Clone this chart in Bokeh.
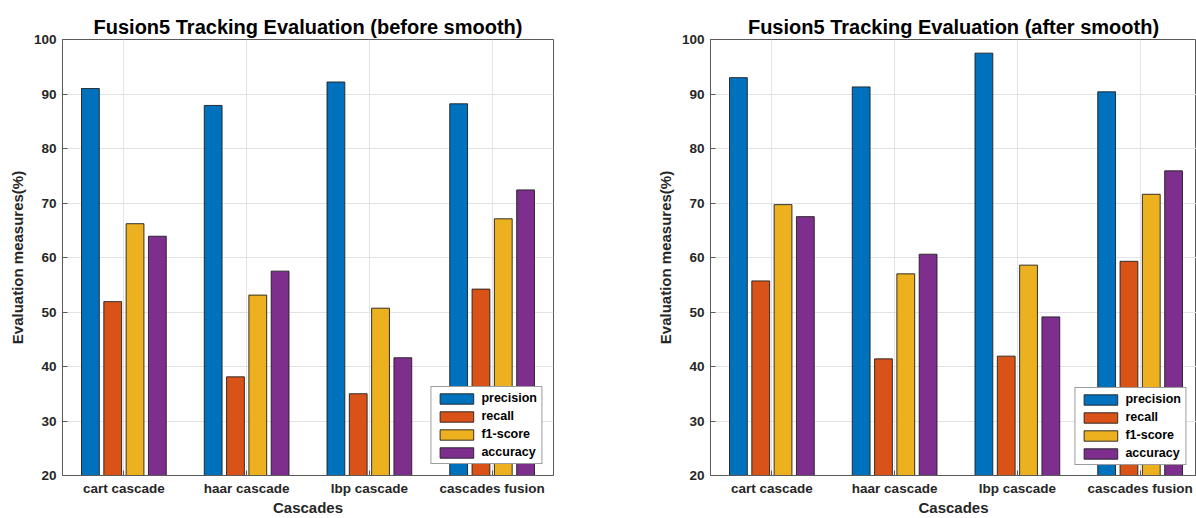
from bokeh.plotting import figure
from bokeh.layouts import row
from bokeh.models import ColumnDataSource, FixedTicker, Range1d, Legend, LegendItem
from bokeh.transform import dodge
from bokeh.embed import file_html
from bokeh.resources import INLINE

# ---------------- data ----------------
cascades = ["cart cascade", "haar cascade", "lbp cascade", "cascades fusion"]
positions = [1, 2, 3, 4]
measures = ["precision", "recall", "f1-score", "accuracy"]

before_precision = [91.0, 87.9, 92.2, 88.2]
before_recall = [51.9, 38.1, 35.0, 54.2]
before_f1 = [66.2, 53.1, 50.7, 67.1]
before_accuracy = [63.9, 57.5, 41.6, 72.4]

after_precision = [93.0, 91.3, 97.5, 90.4]
after_recall = [55.7, 41.4, 41.9, 59.3]
after_f1 = [69.7, 57.0, 58.6, 71.6]
after_accuracy = [67.5, 60.6, 49.1, 75.9]

y_ticks = [20, 30, 40, 50, 60, 70, 80, 90, 100]

colors = ["#0072BD", "#D95319", "#EDB120", "#7E2F8E"]
offsets = [-0.2727, -0.0909, 0.0909, 0.2727]
BAR_W = 0.145
FONT = "Liberation Sans"
TXT = "#262626"
FRAME = "#5a5a5a"
FIG_H = 518


def make_fig(title, series, width, x_end, border_right, legend_margin):
    src = ColumnDataSource(dict(pos=positions, m0=series[0], m1=series[1],
                                m2=series[2], m3=series[3]))
    p = figure(width=width, height=FIG_H, output_backend="svg", toolbar_location=None,
               x_range=Range1d(0.5, x_end), y_range=Range1d(20, 100),
               min_border_left=62, min_border_right=border_right,
               min_border_top=39, min_border_bottom=42,
               background_fill_color="white", border_fill_color="white")
    p.title.text = title
    p.title.text_font = FONT
    p.title.text_font_size = "20px"
    p.title.text_font_style = "bold"
    p.title.text_color = "black"
    p.title.align = "center"
    p.title.standoff = 3

    p.outline_line_color = FRAME
    p.outline_line_width = 1

    p.xgrid.grid_line_color = "#e3e3e3"
    p.ygrid.grid_line_color = "#e3e3e3"

    renderers = []
    for i in range(4):
        r = p.vbar(x=dodge("pos", offsets[i]), top="m%d" % i, bottom=20, width=BAR_W,
                   source=src, fill_color=colors[i], line_color="#1e1e1e",
                   line_width=0.9)
        renderers.append(r)

    xa = p.xaxis[0]
    xa.ticker = FixedTicker(ticks=positions)
    xa.major_label_overrides = {k: v for k, v in zip(positions, cascades)}
    xa.axis_label = "Cascades"
    ya = p.yaxis[0]
    ya.ticker = FixedTicker(ticks=y_ticks)
    ya.axis_label = "Evaluation measures(%)"
    for ax in (xa, ya):
        ax.axis_line_color = FRAME
        ax.major_tick_line_color = FRAME
        ax.major_tick_in = 5
        ax.major_tick_out = 0
        ax.minor_tick_line_color = None
        ax.major_label_text_font = FONT
        ax.major_label_text_font_size = "13.5px"
        ax.major_label_text_font_style = "bold"
        ax.major_label_text_color = TXT
        ax.axis_label_text_font = FONT
        ax.axis_label_text_font_size = "15px"
        ax.axis_label_text_font_style = "bold"
        ax.axis_label_text_color = TXT
    xa.major_label_standoff = 5
    xa.axis_label_standoff = 0
    ya.major_label_standoff = 6
    ya.axis_label_standoff = 5

    legend = Legend(items=[LegendItem(label=measures[i], renderers=[renderers[i]])
                           for i in range(4)],
                    location="bottom_right", margin=legend_margin)
    legend.glyph_width = 42
    legend.glyph_height = 13
    legend.label_height = 13
    legend.label_standoff = 4
    legend.spacing = 4
    legend.padding = 4
    legend.label_text_font = FONT
    legend.label_text_font_size = "12.5px"
    legend.label_text_font_style = "bold"
    legend.label_text_color = "black"
    legend.border_line_color = "#3a3a3a"
    legend.border_line_width = 1
    legend.background_fill_color = "white"
    legend.background_fill_alpha = 1
    p.add_layout(legend)
    return p


p1 = make_fig("Fusion5 Tracking Evaluation (before smooth)",
              [before_precision, before_recall, before_f1, before_accuracy],
              width=648, x_end=4.5, border_right=95, legend_margin=11)
p2 = make_fig("Fusion5 Tracking Evaluation (after smooth)",
              [after_precision, after_recall, after_f1, after_accuracy],
              width=548, x_end=0.5 + 486 / 122.75, border_right=0, legend_margin=10)

layout = row(p1, p2)
open("out.html", "w").write(file_html(layout, INLINE))
